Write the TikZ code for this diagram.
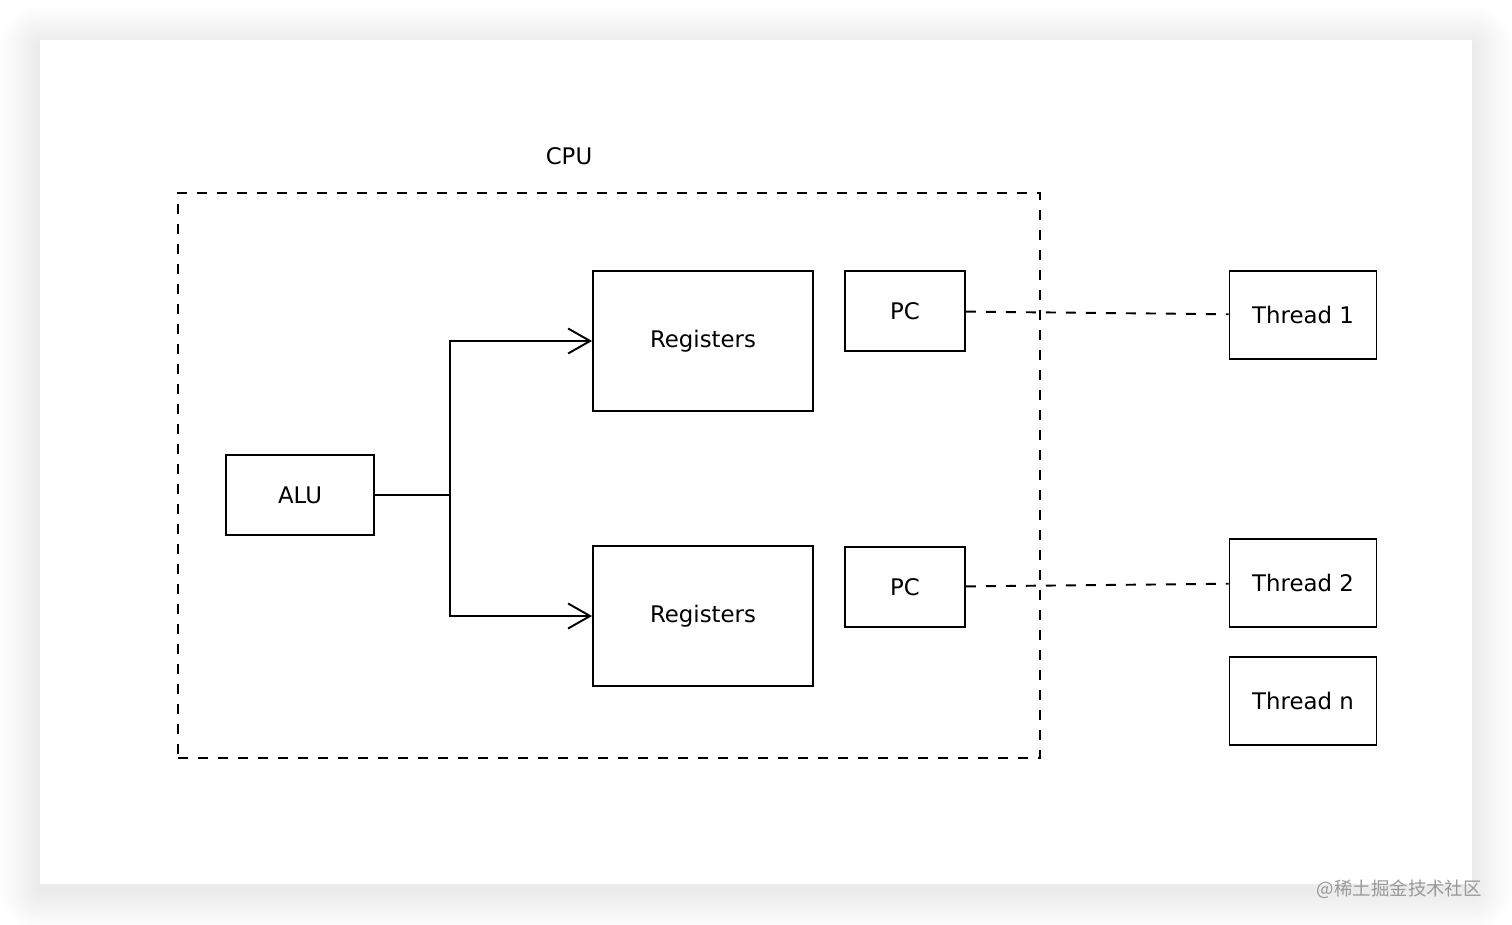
\documentclass[tikz,border=0pt]{standalone}
\usepackage{fontspec}
\setmainfont{DejaVu Sans}
\newfontfamily\cjk{Noto Sans CJK SC}
\usetikzlibrary{arrows.meta,positioning}

\begin{document}
\begin{tikzpicture}[x=0.02cm, y=-0.02cm, font=\fontsize{13}{15}\selectfont,
        main/.style = {draw, line width=1.1pt, inner sep=0pt},
        link/.style = {line width=1.1pt, -{Straight Barb[length=0.44cm, width=0.5cm, line width=1.1pt]}},
        dashline/.style = {line width=1.1pt, dash pattern=on 0.2cm off 0.2cm}]
            \useasboundingbox (0,0) rectangle (1512,924);
            % card with soft shadow
            \foreach \i in {2,4,...,40}
                \fill[black, opacity=0.004, rounded corners=\i*0.02cm] (40-\i,46-\i) rectangle (1472+\i,890+\i);
            \fill[white] (40,40) rectangle (1472,884);

            \node[main, dashline, minimum width=17.24cm, minimum height=11.3cm] (cpu) at (609,475.5) {};
            \node (cpulabel) at (569,156) {CPU};

            \node[main, minimum width=2.96cm, minimum height=1.6cm] (alu) at (300,495) {ALU};
            \node[main, minimum width=4.4cm, minimum height=2.8cm] (r1) at (703,341) {Registers};
            \node[main, minimum width=4.4cm, minimum height=2.8cm] (r2) at (703,616) {Registers};
            \node[main, minimum width=2.4cm, minimum height=1.6cm] (pc1) at (905,311) {PC};
            \node[main, minimum width=2.4cm, minimum height=1.6cm] (pc2) at (905,587) {PC};
            \node[main, minimum width=2.94cm, minimum height=1.76cm] (t1) at (1303,315) {Thread 1};
            \node[main, minimum width=2.94cm, minimum height=1.76cm] (t2) at (1303,583) {Thread 2};
            \node[main, minimum width=2.94cm, minimum height=1.76cm, below=0.56cm of t2] (tn) {Thread n};

            \coordinate (split) at (450,495);
            \draw[line width=1.1pt] (alu) -- (split);
            \draw[link] (split) |- (r1);
            \draw[link] (split) |- (r2);
            \draw[dashline] (pc1) -- (t1);
            \draw[dashline] (pc2) -- (t2);

            \node[text=black!40, font=\cjk\fontsize{10.5}{12}\selectfont, anchor=east] (mark) at (1488,889) {@稀土掘金技术社区};
        \end{tikzpicture}
\end{document}
